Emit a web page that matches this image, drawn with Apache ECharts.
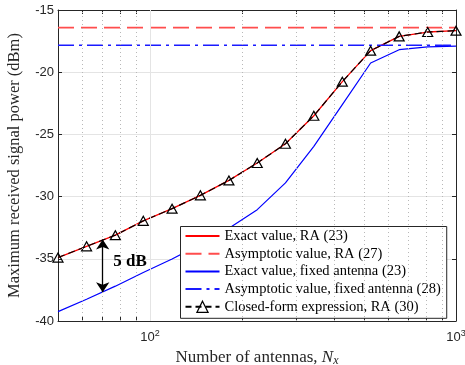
<!DOCTYPE html>
<html>
<head>
<meta charset="utf-8">
<script src="https://cdn.jsdelivr.net/npm/echarts@6/dist/echarts.min.js"></script>
<style>
  html, body { margin: 0; padding: 0; background: #fff; }
  #chart { width: 465px; height: 365px; }
</style>
</head>
<body>
<div id="chart"></div>
<script>
// Number of antennas N_x (log-spaced sweep)
const antennas = [50, 62, 77, 95, 118, 146, 181, 224, 277, 343, 425, 526, 652, 808, 1000];
// Exact received power with the reconfigurable array, eq. (23)
const exactRA = [-34.9, -34.0, -33.1, -31.95, -30.97, -29.9, -28.7, -27.3, -25.75, -23.5, -20.76, -18.27, -17.12, -16.77, -16.66];
// Closed-form expression for the reconfigurable array, eq. (30)
const closedFormRA = [-34.9, -34.0, -33.1, -31.95, -30.97, -29.9, -28.7, -27.3, -25.75, -23.5, -20.76, -18.27, -17.12, -16.77, -16.66];
// Exact received power with a fixed antenna, eq. (23)
const exactFixed = [-39.25, -38.25, -37.2, -36.1, -35.02, -33.84, -32.54, -31.05, -28.9, -25.96, -22.6, -19.26, -18.19, -17.97, -17.9];
// Asymptotic limits, eqs. (27) and (28)
const asymptoteRA = -16.42;
const asymptoteFixed = -17.84;

// Axis settings
const xRange = [50, 1000];
const xMajorTicks = [100, 1000];
const xMinorTicks = [60, 70, 80, 90, 200, 300, 400, 500, 600, 700, 800, 900];
const yRange = [-40, -15];
const yStep = 5;

// "5 dB" gap annotation at N_x = 70
const gapAt = 70;
const gapTop = -33.45;
const gapBottom = -37.68;
const gapLabelAt = [86, -35.23];

const names = [
  'Exact value, RA (23)',
  'Asymptotic value, RA (27)',
  'Exact value, fixed antenna (23)',
  'Asymptotic value, fixed antenna (28)',
  'Closed-form expression, RA (30)'
];

const pairs = (vals) => antennas.map((n, i) => [n, vals[i]]);
const flat = (v) => [[xRange[0], v], [xRange[1], v]];

const axisColor = '#262626';
const serif = 'Liberation Serif';
const sans = 'Liberation Sans';

const chart = echarts.init(document.getElementById('chart'), null, { renderer: 'canvas' });

const baseX = {
  type: 'log', logBase: 10, min: xRange[0], max: xRange[1],
  axisLine: { show: true, lineStyle: { color: axisColor, width: 1 } },
  axisTick: { show: true, inside: true, length: 4, customValues: xMinorTicks.concat(xMajorTicks),
              lineStyle: { color: axisColor, width: 1 } },
  splitLine: { show: false },
  minorTick: { show: false }
};
const baseY = {
  type: 'value', min: yRange[0], max: yRange[1], interval: yStep,
  axisLine: { show: true, lineStyle: { color: axisColor, width: 1 } },
  axisTick: { show: true, inside: true, length: 4, lineStyle: { color: axisColor, width: 1 } }
};

chart.setOption({
  animation: false,
  backgroundColor: '#fff',
  grid: { left: 58, top: 10, right: 9, bottom: 44, containLabel: false, outerBoundsMode: 'none' },
  xAxis: [
    Object.assign({}, baseX, {
      position: 'bottom',
      name: '{t|Number of antennas, }{i|N}{s|x}',
      nameLocation: 'middle', nameGap: 24,
      nameTextStyle: {
        rich: {
          t: { fontFamily: serif, fontSize: 17, color: '#262626' },
          i: { fontFamily: serif, fontSize: 17, fontStyle: 'italic', color: '#262626' },
          s: { fontFamily: serif, fontSize: 12, fontStyle: 'italic', color: '#262626', padding: [7, 0, 0, 0] }
        }
      },
      axisLabel: {
        show: true, margin: 8, customValues: xMajorTicks,
        formatter: (v) => '{b|10}{p|' + Math.round(Math.log10(v)) + '}',
        rich: {
          b: { fontFamily: sans, fontSize: 13, color: axisColor },
          p: { fontFamily: sans, fontSize: 9, color: axisColor, padding: [0, 0, 8, 0] }
        }
      }
    }),
    Object.assign({}, baseX, { position: 'top', axisLabel: { show: false } })
  ],
  yAxis: [
    Object.assign({}, baseY, {
      position: 'left',
      name: 'Maximum received signal power (dBm)',
      nameLocation: 'middle', nameGap: 35,
      nameTextStyle: { fontFamily: serif, fontSize: 16.5, color: '#262626' },
      axisLabel: { show: true, margin: 4, fontFamily: sans, fontSize: 13, color: axisColor },
      splitLine: { show: true, lineStyle: { color: '#e4e4e4', width: 1 } }
    }),
    Object.assign({}, baseY, { position: 'right', axisLabel: { show: false }, splitLine: { show: false } })
  ],
  legend: {
    orient: 'vertical', left: 180.5, top: 226.5,
    itemWidth: 34, itemHeight: 14, itemGap: 2.7,
    padding: [2, 6, 4, 4],
    backgroundColor: '#fff', borderColor: axisColor, borderWidth: 1, borderRadius: 0,
    selectedMode: false,
    textStyle: { fontFamily: serif, fontSize: 14.5, color: '#000' },
    data: names.map((n, i) => (i < 4
      ? { name: n, itemStyle: { opacity: 0 } }
      : { name: n, itemStyle: { color: 'rgba(255,255,255,0)', borderColor: '#000', borderWidth: 1.2 },
          lineStyle: { type: [6, 4] } }))
  },
  series: [
    {
      // grid lines for the log axis
      type: 'line', data: [], z: 1, silent: true,
      markLine: {
        silent: true, symbol: 'none', label: { show: false }, animation: false,
        data: xMinorTicks.map(v => ({ xAxis: v, lineStyle: { type: [1, 3], color: '#b8b8b8', width: 1 } }))
          .concat([{ xAxis: 100, lineStyle: { type: 'solid', color: '#e4e4e4', width: 1 } }])
      }
    },
    {
      name: names[0], type: 'line', z: 3, data: pairs(exactRA), symbol: 'none',
      lineStyle: { color: '#ff0000', width: 1.3 }, itemStyle: { color: '#ff0000' }
    },
    {
      name: names[1], type: 'line', z: 3, data: flat(asymptoteRA), symbol: 'none',
      lineStyle: { color: '#ff4d4d', width: 1.6, type: [16, 7] }, itemStyle: { color: '#ff4d4d' }
    },
    {
      name: names[2], type: 'line', z: 3, data: pairs(exactFixed), symbol: 'none',
      lineStyle: { color: '#0000ff', width: 1.2 }, itemStyle: { color: '#0000ff' }
    },
    {
      name: names[3], type: 'line', z: 3, data: flat(asymptoteFixed), symbol: 'none',
      lineStyle: { color: '#1a1aff', width: 1.5, type: [16, 5, 3, 5] }, itemStyle: { color: '#1a1aff' }
    },
    {
      name: names[4], type: 'line', z: 4, data: pairs(closedFormRA),
      symbol: 'triangle', symbolSize: [10, 9],
      lineStyle: { color: '#000', width: 1.2, type: [7, 4] },
      itemStyle: { color: 'rgba(255,255,255,0)', borderColor: '#000', borderWidth: 1.2 }
    },
    {
      // double arrow and label for the 5 dB gap
      type: 'line', data: [], z: 5, silent: true,
      markLine: {
        silent: true, symbol: ['arrow', 'arrow'], symbolSize: 10, animation: false,
        label: { show: false },
        lineStyle: { color: '#000', width: 1.3, type: 'solid' },
        data: [[{ coord: [gapAt, gapTop] }, { coord: [gapAt, gapBottom] }]]
      },
      markPoint: {
        silent: true, symbol: 'rect', symbolSize: 1, animation: false,
        itemStyle: { color: 'rgba(0,0,0,0)' },
        label: { show: true, position: 'inside', formatter: '5 dB',
                 fontFamily: serif, fontWeight: 'bold', fontSize: 17, color: '#000' },
        data: [{ coord: gapLabelAt }]
      }
    }
  ]
});
</script>
</body>
</html>
